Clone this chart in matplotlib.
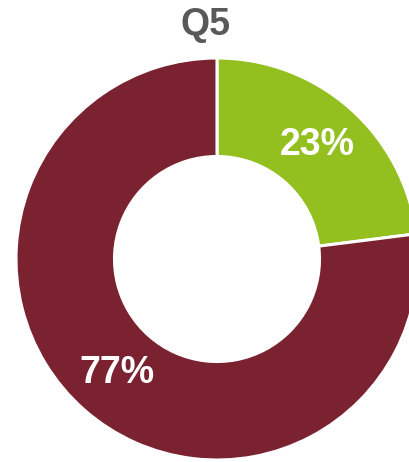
import matplotlib
matplotlib.use("Agg")
import matplotlib.pyplot as plt

labels = ["Yes", "No"]
values = [23, 77]
colors = ["#93C01F", "#7B2230"]
title = "Q5"

W, H, DPI = 409, 462, 100
fig = plt.figure(figsize=(W / DPI, H / DPI), dpi=DPI)

# donut centred at (217, 259) px from top-left, outer radius 201 px
cx, cy, r = 217, 259, 201
ax = fig.add_axes([(cx - r) / W, (H - cy - r) / H, 2 * r / W, 2 * r / H])

wedges, texts = ax.pie(
    values,
    colors=colors,
    startangle=90,
    counterclock=False,
    radius=1.0,
    labels=[f"{v}%" for v in values],
    labeldistance=0.755,
    wedgeprops=dict(width=0.49, edgecolor="white", linewidth=2.2),
    textprops=dict(color="white", fontsize=27, fontweight="bold",
                   family="Liberation Sans", ha="center", va="center"),
)
for w in wedges:
    w.set_clip_on(False)
for t in texts:
    t.set_ha("center")
    t.set_va("center")

ax.set_xlim(-1, 1)
ax.set_ylim(-1, 1)
ax.set_aspect("equal")
ax.axis("off")

fig.text(206 / W, 1 - 25 / H, title, ha="center", va="center",
         fontsize=27, fontweight="bold", color="#595959", family="Liberation Sans")

fig.savefig("out.png", dpi=DPI)
